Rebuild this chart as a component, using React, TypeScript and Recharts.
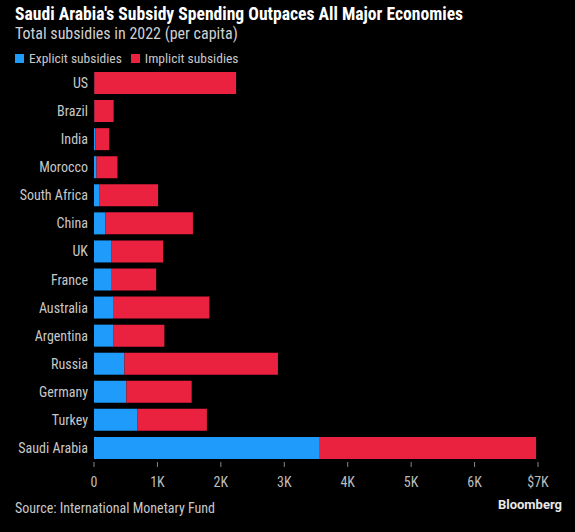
import { BarChart, Bar, XAxis, YAxis } from "recharts";

const countries = [
  "US",
  "Brazil",
  "India",
  "Morocco",
  "South Africa",
  "China",
  "UK",
  "France",
  "Australia",
  "Argentina",
  "Russia",
  "Germany",
  "Turkey",
  "Saudi Arabia",
];

// per capita, thousands of USD
const explicit = [0.005, 0.005, 0.02, 0.04, 0.08, 0.18, 0.27, 0.28, 0.3, 0.31, 0.48, 0.51, 0.68, 3.56];
const total = [2.24, 0.31, 0.24, 0.37, 1.01, 1.56, 1.09, 0.98, 1.82, 1.11, 2.9, 1.54, 1.78, 6.97];

const xTicks = [0, 1, 2, 3, 4, 5, 6, 7];

const BLUE = "#1e9bfb";
const RED = "#eb2140";
const FONT = "'Liberation Sans Narrow', 'Roboto Condensed', Roboto, sans-serif";

const data = countries.map((name, i) => ({
  name,
  explicit: explicit[i] * 1000,
  implicit: (total[i] - explicit[i]) * 1000,
}));

const fmtTick = (v: number) => {
  if (v === 0) return "0";
  if (v === 7000) return "$7K";
  return `${v / 1000}K`;
};

export default function App() {
  return (
    <div
      style={{
        position: "fixed",
        top: 0,
        left: 0,
        width: 575,
        height: 532,
        background: "#000",
        fontFamily: FONT,
        overflow: "hidden",
      }}
    >
      <div style={{ position: "absolute", left: 15, top: 4, color: "#fff", fontSize: 17.6, fontWeight: 700 }}>
        Saudi Arabia's Subsidy Spending Outpaces All Major Economies
      </div>
      <div style={{ position: "absolute", left: 15, top: 24, color: "#d0d0d0", fontSize: 16 }}>
        Total subsidies in 2022 (per capita)
      </div>
      <div
        style={{
          position: "absolute",
          left: 15,
          top: 50,
          color: "#c8c8c8",
          fontSize: 13.5,
          display: "flex",
          alignItems: "center",
        }}
      >
        <span style={{ width: 9, height: 9, background: BLUE, display: "inline-block", marginRight: 5 }} />
        <span style={{ marginRight: 9 }}>Explicit subsidies</span>
        <span style={{ width: 9, height: 9, background: RED, display: "inline-block", marginRight: 5 }} />
        <span>Implicit subsidies</span>
      </div>

      <div style={{ position: "absolute", left: 0, top: 0 }}>
        <BarChart
          width={575}
          height={532}
          data={data}
          layout="vertical"
          margin={{ top: 69, right: 37, bottom: 38, left: 0 }}
        >
          <XAxis
            type="number"
            domain={[0, 7000]}
            ticks={xTicks.map((t) => t * 1000)}
            tickFormatter={fmtTick}
            axisLine={false}
            tickLine={{ stroke: "#888" }}
            tickSize={5}
            tickMargin={10}
            height={32}
            tick={{ fill: "#bdbdbd", fontSize: 14, fontFamily: FONT }}
          />
          <YAxis
            type="category"
            dataKey="name"
            width={94}
            axisLine={false}
            tickLine={false}
            tickMargin={0}
            tick={{ fill: "#c8c8c8", fontSize: 14, fontFamily: FONT }}
          />
          <Bar dataKey="explicit" stackId="a" fill={BLUE} barSize={22} isAnimationActive={false} />
          <Bar dataKey="implicit" stackId="a" fill={RED} barSize={22} isAnimationActive={false} />
        </BarChart>
      </div>

      <div style={{ position: "absolute", left: 15, top: 500, color: "#c8c8c8", fontSize: 14 }}>
        Source: International Monetary Fund
      </div>
      <div
        style={{
          position: "absolute",
          right: 13,
          top: 497,
          color: "#e8e8e8",
          fontSize: 13,
          fontWeight: 700,
          fontFamily: "Roboto, sans-serif",
        }}
      >
        Bloomberg
      </div>
    </div>
  );
}
